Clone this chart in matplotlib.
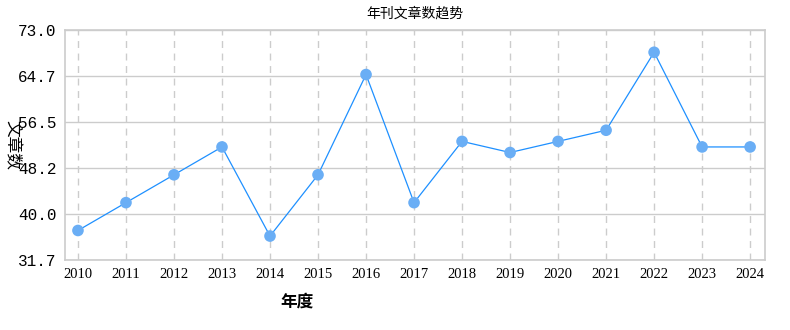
import matplotlib
matplotlib.use('Agg')
import matplotlib.pyplot as plt

plt.rcParams['font.family'] = ['Noto Sans CJK SC', 'DejaVu Sans']

years = [2010, 2011, 2012, 2013, 2014, 2015, 2016, 2017,
         2018, 2019, 2020, 2021, 2022, 2023, 2024]
counts = [37, 42, 47, 52, 36, 47, 65, 42, 53, 51, 53, 55, 69, 52, 52]
y_ticks = [31.7, 40.0, 48.2, 56.5, 64.7, 73.0]

fig = plt.figure(figsize=(7.9, 3.3), dpi=100)
ax = fig.add_axes([65 / 790, 70 / 330, 700 / 790, 230 / 330])

ax.plot(years, counts, color='#1E90FF', linewidth=0.9, zorder=3)
ax.scatter(years, counts, s=70, color='#6AAEF5', edgecolors='none', zorder=4)

ax.set_xlim(2009.73, 2024.31)
ax.set_ylim(31.7, 73.0)
ax.set_xticks(years)
ax.set_xticklabels([str(y) for y in years], family='Liberation Serif', fontsize=10.5)
ax.set_yticks(y_ticks)
ax.set_yticklabels(['%.1f' % v for v in y_ticks], family='Liberation Mono', fontsize=11.5)

ax.grid(axis='y', color='#cccccc', linewidth=1, linestyle='-')
ax.grid(axis='x', color='#cccccc', linewidth=1, linestyle=(0, (5, 4)))
ax.set_axisbelow(True)
for s in ax.spines.values():
    s.set_color('#cccccc')
    s.set_linewidth(1.2)
ax.tick_params(length=0, pad=6)

ax.set_title('年刊文章数趋势', fontsize=10, pad=9)
fig.text(12 / 790, 1 - 145 / 330, '文章数', rotation=-90, ha='center', va='center',
         fontsize=12, fontweight='medium')
fig.text(297 / 790, 1 - 302 / 330, '年度', ha='center', va='center',
         fontsize=12, fontweight='bold')

fig.savefig('out.png', dpi=100)
